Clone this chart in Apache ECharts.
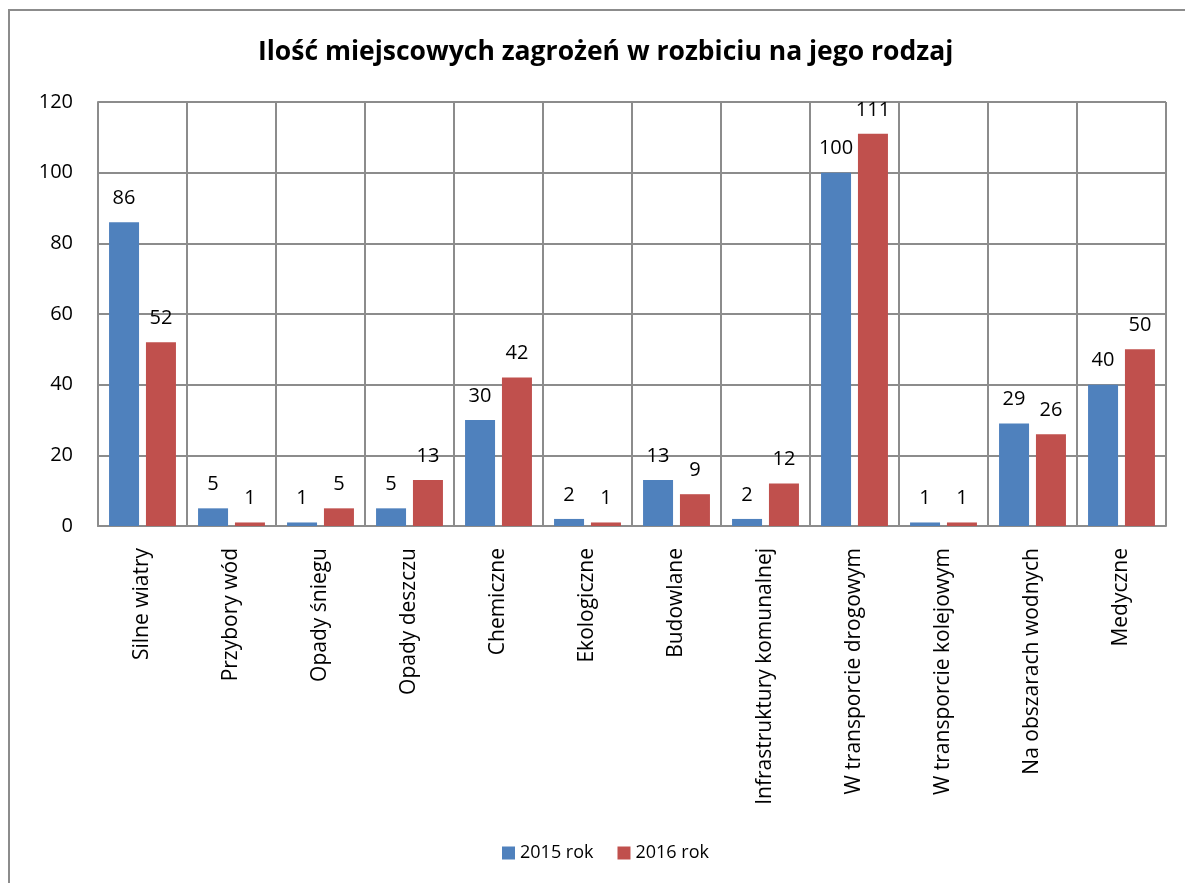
<!DOCTYPE html>
<html>
<head>
<meta charset="utf-8">
<script src="https://cdn.jsdelivr.net/npm/echarts@6/dist/echarts.min.js"></script>
<style>
  html, body { margin: 0; padding: 0; background: #fff; }
  #chart { width: 1185px; height: 883px; }
</style>
</head>
<body>
<div id="chart"></div>
<script>
// chart data
const categories = [
  'Silne wiatry', 'Przybory wód', 'Opady śniegu', 'Opady deszczu',
  'Chemiczne', 'Ekologiczne', 'Budowlane', 'Infrastruktury komunalnej',
  'W transporcie drogowym', 'W transporcie kolejowym', 'Na obszarach wodnych', 'Medyczne'
];
const seriesNames = ['2015 rok', '2016 rok'];
const values2015 = [86, 5, 1, 5, 30, 2, 13, 2, 100, 1, 29, 40];
const values2016 = [52, 1, 5, 13, 42, 1, 9, 12, 111, 1, 26, 50];
const yTicks = { min: 0, max: 120, interval: 20 };

const font = 'Open Sans';
const gridColor = '#8c8c8c';

const chart = echarts.init(document.getElementById('chart'));

function barSeries(name, data, color) {
  return {
    name: name,
    type: 'bar',
    data: data,
    barWidth: 30,
    barGap: '23%',
    itemStyle: { color: color },
    label: {
      show: true,
      position: 'top',
      distance: 14,
      color: '#000',
      fontFamily: font,
      fontSize: 20
    }
  };
}

chart.setOption({
  animation: false,
  textStyle: { fontFamily: font },
  title: {
    text: 'Ilość miejscowych zagrożeń w rozbiciu na jego rodzaj',
    left: 253,
    top: 34,
    textStyle: { fontFamily: font, fontSize: 26.5, fontWeight: 'bold', color: '#000' }
  },
  legend: {
    bottom: 16,
    left: 497,
    itemWidth: 13,
    itemHeight: 13,
    itemGap: 24,
    icon: 'rect',
    textStyle: { fontFamily: font, fontSize: 18, color: '#000' },
    data: seriesNames
  },
  grid: { left: 98, right: 19, top: 102, bottom: 357, containLabel: false },
  xAxis: {
    type: 'category',
    data: categories,
    axisLine: { lineStyle: { color: gridColor, width: 2 } },
    axisTick: { show: true, length: 0 },
    splitLine: { show: true, lineStyle: { color: gridColor, width: 2 } },
    axisLabel: {
      rotate: 90,
      interval: 0,
      margin: 22,
      color: '#000',
      fontFamily: font,
      fontSize: 21
    }
  },
  yAxis: {
    type: 'value',
    min: yTicks.min,
    max: yTicks.max,
    interval: yTicks.interval,
    axisLine: { show: true, lineStyle: { color: gridColor, width: 2 } },
    axisTick: { show: false },
    splitLine: { lineStyle: { color: gridColor, width: 2 } },
    axisLabel: { margin: 25, color: '#000', fontFamily: font, fontSize: 20 }
  },
  graphic: [{
    type: 'rect',
    shape: { x: 9, y: 10, width: 1250, height: 950 },
    style: { fill: 'none', stroke: '#8c8c8c', lineWidth: 2 },
    silent: true
  }, {
    type: 'line',
    shape: { x1: 1166, y1: 102, x2: 1166, y2: 526 },
    style: { stroke: gridColor, lineWidth: 2 },
    silent: true
  }],
  series: [
    barSeries(seriesNames[0], values2015, '#4f81bd'),
    barSeries(seriesNames[1], values2016, '#c0504d')
  ]
});
</script>
</body>
</html>
